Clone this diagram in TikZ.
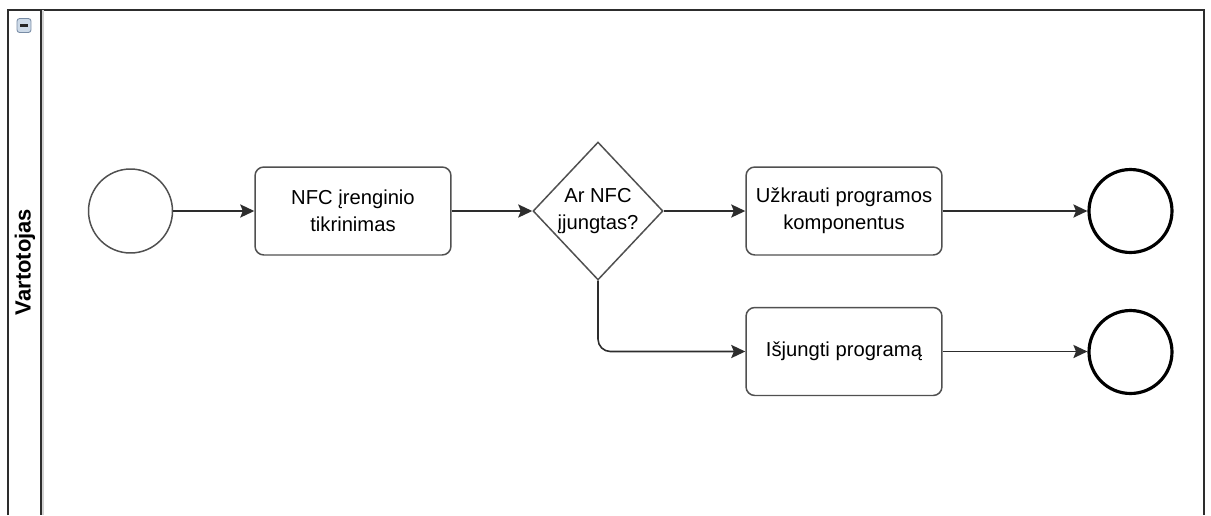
\documentclass[tikz,border=0pt]{standalone}
\usepackage{fontspec}
\setmainfont{Liberation Sans}
\usetikzlibrary{%
  shapes, shapes.geometric, arrows, arrows.meta,
  calc, positioning,
}
\definecolor{poolLine}{RGB}{ 45, 45, 45}
\definecolor{taskLine}{RGB}{ 80, 80, 80}
\definecolor{iconFill}{RGB}{205,218,232}
\definecolor{iconLine}{RGB}{120,140,165}

\begin{document}
\begin{tikzpicture}[
  x=0.02cm, y=-0.02cm,
  %% Task box style
  task/.style={
    rectangle, rounded corners=5pt,
    minimum width=3.92cm, minimum height=1.76cm,
    align=center, font=\fontsize{11.5}{15.3}\selectfont,
    draw=taskLine, line width=0.85pt, inner sep=3pt
  },
  %% Exclusive gateway
  gate/.style={
    diamond, aspect=1, inner sep=0pt,
    minimum width=2.6cm, minimum height=2.76cm,
    align=center, font=\fontsize{11.5}{15.3}\selectfont,
    draw=taskLine, line width=0.85pt
  },
  %% Start / end events
  startev/.style={circle, minimum size=1.68cm, inner sep=0pt,
    draw=taskLine, line width=0.85pt},
  endev/.style={circle, minimum size=1.66cm, inner sep=0pt,
    draw=black, line width=1.8pt},
  %% Sequence flow arrow
  farr/.style={-{Stealth[length=8pt,width=7.5pt,inset=1.5pt]},
    line width=0.9pt, draw=poolLine},
]
\useasboundingbox (0,0) rectangle (1211,515);

%% ── Y positions (top to bottom) ────────────────────────────────────────────
\def\yA{211}   % main row
\def\yB{351.5} % lower row

%% ── POOL & LANE ────────────────────────────────────────────────────────────
\draw[poolLine, line width=1.4pt]
  (8,515) -- (8,10) -- (1204,10) -- (1204,515);
\draw[gray!35, line width=1.2pt] (42.5,10) -- (42.5,515);
\draw[poolLine, line width=1.3pt] (41,10) -- (41,515);
\node[rectangle, rounded corners=1.5pt, fill=iconFill, draw=iconLine,
      line width=0.5pt, minimum size=0.28cm, inner sep=0pt]
  (fold) at (24,25.5) {};
\draw[gray!30!black, line width=1.4pt] ($(fold.center)+(-4,0)$) -- ($(fold.center)+(4,0)$);
\node[rotate=90, font=\fontsize{12.5}{14}\selectfont\bfseries]
  (lane) at (25,262) {Vartotojas};

%% ── EVENTS ─────────────────────────────────────────────────────────────────
\node[startev] (start) at (130.5,\yA) {};
\node[endev] (endA) at (1130.5,\yA) {};
\node[endev] (endB) at (1130.5,352) {};

%% ── TASKS ──────────────────────────────────────────────────────────────────
\node[task] (check) at (353,\yA) {NFC įrenginio\\tikrinimas};
\node[gate] (nfcon) at (598,\yA) {Ar NFC\\įjungtas?};
\node[task] (load) at (844,\yA) {Užkrauti programos\\komponentus};
\node[task] (quit) at (844,\yB) {Išjungti programą};

%% ── SEQUENCE FLOWS ─────────────────────────────────────────────────────────
\draw[farr] (start.east) -- (check.west);
\draw[farr] (check.east) -- (nfcon.west);
\draw[farr] (nfcon.east) -- (load.west);
\draw[farr, rounded corners=7pt] (nfcon.south) |- (quit.west);
\draw[farr] (load.east) -- (endA.west);
\draw[farr] (quit.east) -- (quit.east -| endB.west);

\end{tikzpicture}
\end{document}
